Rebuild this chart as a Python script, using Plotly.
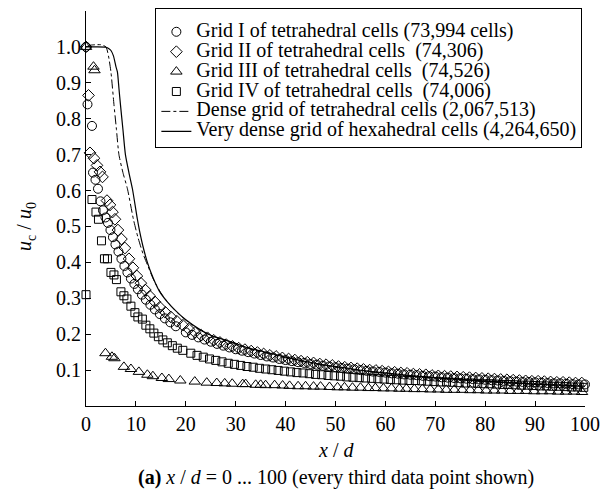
import plotly.graph_objects as go

# ---- data ----
grid1_x = [0, 0.3, 1.2, 1.4, 1.9, 2.4, 2.9, 3.4, 3.9, 4.4, 4.9, 5.4, 5.9, 6.5, 7.1, 7.7, 8.3, 9.0, 9.7, 10.4,
           11.2, 12.0, 12.9, 13.8, 14.8, 15.8, 16.9, 18.0,
           20.00, 21.25, 22.50, 23.75, 25.00, 26.25, 27.50, 28.75, 30.00, 31.25, 32.50, 33.75, 35.00, 36.25,
           37.50, 38.75, 40.00, 41.25, 42.50, 43.75, 45.00, 46.25, 47.50, 48.75, 50.00, 51.25, 52.50, 53.75,
           55.00, 56.25, 57.50, 58.75, 60.00, 61.25, 62.50, 63.75, 65.00, 66.25, 67.50, 68.75, 70.00, 71.25,
           72.50, 73.75, 75.00, 76.25, 77.50, 78.75, 80.00, 81.25, 82.50, 83.75, 85.00, 86.25, 87.50, 88.75,
           90.00, 91.25, 92.50, 93.75, 95.00, 96.25, 97.50, 98.75, 100.00]
grid1_y = [1.0, 0.84, 0.78, 0.65, 0.63, 0.605, 0.57, 0.545, 0.525, 0.51, 0.49, 0.47, 0.45, 0.43, 0.41, 0.39,
           0.372, 0.355, 0.34, 0.325, 0.31, 0.296, 0.282, 0.269, 0.256, 0.244, 0.233, 0.222,
           0.205, 0.198, 0.191, 0.185, 0.179, 0.173, 0.168, 0.163, 0.158, 0.154, 0.150, 0.146, 0.142, 0.138,
           0.135, 0.131, 0.128, 0.125, 0.122, 0.120, 0.117, 0.115, 0.112, 0.110, 0.108, 0.106, 0.104, 0.102,
           0.100, 0.098, 0.096, 0.095, 0.093, 0.091, 0.090, 0.088, 0.087, 0.086, 0.084, 0.083, 0.082, 0.080,
           0.079, 0.078, 0.077, 0.076, 0.075, 0.074, 0.073, 0.072, 0.071, 0.070, 0.069, 0.068, 0.067, 0.067,
           0.066, 0.065, 0.064, 0.063, 0.063, 0.062, 0.061, 0.060, 0.060]

grid2_x = [0, 0.5, 0.8, 1.6, 2.2, 2.8, 3.3, 4.2, 4.8, 5.3, 5.8, 6.4, 7.1, 7.8, 8.6, 9.4, 10.2, 11.0, 11.9,
           12.8, 13.8, 14.8, 15.9, 17.0, 18.2, 19.4,
           20.60, 21.85, 23.10, 24.35, 25.60, 26.85, 28.10, 29.35, 30.60, 31.85, 33.10, 34.35, 35.60, 36.85,
           38.10, 39.35, 40.60, 41.85, 43.10, 44.35, 45.60, 46.85, 48.10, 49.35, 50.60, 51.85, 53.10, 54.35,
           55.60, 56.85, 58.10, 59.35, 60.60, 61.85, 63.10, 64.35, 65.60, 66.85, 68.10, 69.35, 70.60, 71.85,
           73.10, 74.35, 75.60, 76.85, 78.10, 79.35, 80.60, 81.85, 83.10, 84.35, 85.60, 86.85, 88.10, 89.35,
           90.60, 91.85, 93.10, 94.35, 95.60, 96.85, 98.10, 99.35]
grid2_y = [1.0, 0.865, 0.705, 0.69, 0.67, 0.652, 0.638, 0.572, 0.56, 0.54, 0.52, 0.49, 0.465, 0.44, 0.41,
           0.385, 0.362, 0.342, 0.323, 0.306, 0.29, 0.275, 0.261, 0.248, 0.236, 0.225,
           0.214, 0.205, 0.197, 0.190, 0.183, 0.177, 0.171, 0.166, 0.161, 0.157, 0.153, 0.149, 0.145, 0.141,
           0.138, 0.134, 0.131, 0.128, 0.125, 0.122, 0.120, 0.117, 0.115, 0.113, 0.110, 0.108, 0.106, 0.104,
           0.102, 0.100, 0.099, 0.097, 0.095, 0.094, 0.092, 0.091, 0.089, 0.088, 0.087, 0.085, 0.084, 0.083,
           0.082, 0.081, 0.080, 0.079, 0.078, 0.077, 0.076, 0.075, 0.074, 0.073, 0.072, 0.071, 0.070, 0.069,
           0.069, 0.068, 0.067, 0.066, 0.066, 0.065, 0.064, 0.064]

grid3_x = [0, 1.5, 1.7, 3.9, 5.2, 5.7, 7.6, 9.0, 10.6, 12.3, 13.4, 15.2, 16.6, 18.9, 21.8, 24.2, 26.2, 27.8,
           29.3, 31.4, 32.0, 34.0, 35.0, 36.0, 37.8, 39.4, 40.8, 42.5, 44.0, 45.6, 47.0, 48.8, 50.4, 51.8,
           53.4, 55.0, 56.6, 58.0, 59.6, 61.2, 62.8, 64.2, 65.8, 67.4, 69.0, 70.6, 72.2, 73.8, 75.4, 77.0,
           78.6, 80.2, 81.8, 83.4, 85.0, 86.6, 88.2, 89.8, 91.4, 93.0, 94.6, 96.2, 97.8, 99.4]
grid3_y = [1.0, 0.945, 0.935, 0.147, 0.137, 0.133, 0.109, 0.103, 0.095, 0.087, 0.083, 0.078, 0.075, 0.071,
           0.068, 0.065, 0.064, 0.063, 0.062, 0.061, 0.061, 0.059, 0.059, 0.058, 0.058, 0.057, 0.056, 0.055,
           0.055, 0.054, 0.054, 0.053, 0.052, 0.052, 0.051, 0.051, 0.050, 0.050, 0.049, 0.049, 0.048, 0.048,
           0.047, 0.047, 0.046, 0.046, 0.045, 0.045, 0.045, 0.044, 0.044, 0.043, 0.043, 0.043, 0.042, 0.042,
           0.042, 0.041, 0.041, 0.041, 0.040, 0.040, 0.040, 0.039]

grid4_x = [0, 1.2, 2.0, 2.5, 3.1, 3.7, 4.3, 5.0, 5.6, 6.1, 7.0, 7.6, 8.2, 9.0, 9.8, 10.4, 11.3, 12.0, 12.8,
           13.6, 14.5, 15.4, 16.3, 17.3, 18.3, 19.4,
           21.00, 22.25, 23.50, 24.75, 26.00, 27.25, 28.50, 29.75, 31.00, 32.25, 33.50, 34.75, 36.00, 37.25,
           38.50, 39.75, 41.00, 42.25, 43.50, 44.75, 46.00, 47.25, 48.50, 49.75, 51.00, 52.25, 53.50, 54.75,
           56.00, 57.25, 58.50, 59.75, 61.00, 62.25, 63.50, 64.75, 66.00, 67.25, 68.50, 69.75, 71.00, 72.25,
           73.50, 74.75, 76.00, 77.25, 78.50, 79.75, 81.00, 82.25, 83.50, 84.75, 86.00, 87.25, 88.50, 89.75,
           91.00, 92.25, 93.50, 94.75, 96.00, 97.25, 98.50, 99.75]
grid4_y = [0.31, 0.575, 0.54, 0.52, 0.46, 0.41, 0.41, 0.372, 0.365, 0.352, 0.318, 0.307, 0.298, 0.278, 0.26,
           0.248, 0.242, 0.225, 0.215, 0.203, 0.193, 0.184, 0.176, 0.168, 0.161, 0.155,
           0.147, 0.141, 0.136, 0.131, 0.127, 0.123, 0.119, 0.116, 0.113, 0.110, 0.108, 0.105, 0.103, 0.101,
           0.099, 0.097, 0.095, 0.093, 0.092, 0.090, 0.088, 0.087, 0.085, 0.084, 0.083, 0.081, 0.080, 0.079,
           0.078, 0.077, 0.076, 0.075, 0.074, 0.073, 0.072, 0.071, 0.071, 0.070, 0.069, 0.068, 0.067, 0.067,
           0.066, 0.065, 0.064, 0.064, 0.063, 0.062, 0.062, 0.061, 0.060, 0.060, 0.059, 0.058, 0.058, 0.057,
           0.056, 0.056, 0.055, 0.055, 0.054, 0.053, 0.053, 0.052]

dense_x = [0, 1, 2, 3, 4, 4.5, 5.0, 5.6, 6.1, 6.6, 7.4, 8.3, 9.5, 10.4, 11.4, 12.4, 13.6, 15, 16.6, 18.3,
           20.3, 22.8, 25.4, 29.5, 33, 36, 40, 44, 48, 52, 56, 60, 65, 70, 75, 80, 85, 90, 95, 100]
dense_y = [1.0, 1.005, 1.006, 1.006, 1.0, 0.975, 0.93, 0.84, 0.77, 0.70, 0.65, 0.605, 0.52, 0.47, 0.425,
           0.39, 0.35, 0.315, 0.285, 0.26, 0.236, 0.212, 0.194, 0.175, 0.158, 0.148, 0.134, 0.122, 0.112,
           0.104, 0.097, 0.091, 0.084, 0.078, 0.073, 0.068, 0.064, 0.060, 0.057, 0.054]

hexa_x = [0, 2, 4, 4.6, 5.0, 5.5, 6.0, 6.3, 6.6, 6.9, 7.4, 7.9, 8.6, 9.3, 10.3, 10.7, 11.5, 12.3, 13.5, 14.7,
          16.3, 18.0, 20, 22.6, 25, 29.2, 33, 36, 40, 44, 48, 52, 56, 60, 65, 70, 75, 80, 85, 90, 95, 100]
hexa_y = [1.0, 1.0, 0.999, 0.995, 0.99, 0.975, 0.945, 0.93, 0.885, 0.84, 0.77, 0.70, 0.65, 0.605, 0.52,
          0.49, 0.44, 0.40, 0.355, 0.32, 0.29, 0.265, 0.24, 0.215, 0.197, 0.178, 0.16, 0.15, 0.136, 0.124,
          0.114, 0.106, 0.098, 0.092, 0.085, 0.079, 0.074, 0.069, 0.065, 0.061, 0.058, 0.055]

names = ["Grid I of tetrahedral cells (73,994 cells)",
         "Grid II of tetrahedral cells  (74,306)",
         "Grid III of tetrahedral cells  (74,526)",
         "Grid IV of tetrahedral cells  (74,006)",
         "Dense grid of tetrahedral cells (2,067,513)",
         "Very dense grid of hexahedral cells (4,264,650)"]

x_ticks = [0, 10, 20, 30, 40, 50, 60, 70, 80, 90, 100]
y_ticks = [0.1, 0.2, 0.3, 0.4, 0.5, 0.6, 0.7, 0.8, 0.9, 1.0]
y_ticktext = ["0.1", "0.2", "0.3", "0.4", "0.5", "0.6", "0.7", "0.8", "0.9", "1.0"]

FONT = "Times New Roman"
LEG_TXT = 20


def lname(s):
    return '<span style="font-size:%dpx">%s</span>' % (LEG_TXT, s.replace("  ", "\u00a0 "))


def mk(symbol, size):
    return dict(symbol=symbol, size=size, color="black", line=dict(width=1, color="black"))


fig = go.Figure()
fig.add_trace(go.Scatter(x=grid1_x, y=grid1_y, mode="markers", name=lname(names[0]),
                         marker=mk("circle-open", 9), cliponaxis=False))
fig.add_trace(go.Scatter(x=grid2_x, y=grid2_y, mode="markers", name=lname(names[1]),
                         marker=mk("diamond-open", 9), cliponaxis=False))
fig.add_trace(go.Scatter(x=grid3_x, y=grid3_y, mode="markers", name=lname(names[2]),
                         marker=mk("triangle-up-open", 10), cliponaxis=False))
fig.add_trace(go.Scatter(x=grid4_x, y=grid4_y, mode="markers", name=lname(names[3]),
                         marker=mk("square-open", 8), cliponaxis=False))
fig.add_trace(go.Scatter(x=dense_x, y=dense_y, mode="lines", name=lname(names[4]),
                         line=dict(color="black", width=1, dash="dashdot", shape="spline", smoothing=0.6),
                         cliponaxis=False))
fig.add_trace(go.Scatter(x=hexa_x, y=hexa_y, mode="lines", name=lname(names[5]),
                         line=dict(color="black", width=1.2, shape="spline", smoothing=0.6),
                         cliponaxis=False))

fig.update_layout(
    width=608, height=492,
    margin=dict(l=86, r=18, t=8, b=86),
    paper_bgcolor="white", plot_bgcolor="white",
    font=dict(family=FONT, size=20, color="black"),
    showlegend=True,
    legend=dict(x=0.139, y=1.0075, xanchor="left", yanchor="top",
                bordercolor="black", borderwidth=1, bgcolor="white",
                font=dict(family=FONT, size=13, color="black"),
                title=dict(text="\u00a0", font=dict(family=FONT, size=6)),
                tracegroupgap=0, itemwidth=30),
    xaxis=dict(range=[0, 100], tickvals=x_ticks, ticks="inside", ticklen=5, tickcolor="black",
               showline=True, linecolor="black", linewidth=1, showgrid=False, zeroline=False,
               tickfont=dict(family=FONT, size=20)),
    yaxis=dict(range=[0, 1.1], tickvals=y_ticks, ticktext=y_ticktext, ticks="inside", ticklen=5,
               tickcolor="black", showline=True, linecolor="black", linewidth=1, showgrid=False,
               zeroline=False, tickfont=dict(family=FONT, size=20)),
    annotations=[
        dict(text="<i>x</i> / <i>d</i>", xref="paper", yref="paper", x=0.5, y=-0.111,
             xanchor="center", yanchor="middle", showarrow=False, font=dict(family=FONT, size=20)),
        dict(text="<i>u</i><sub>c</sub> / <i>u</i><sub>0</sub>", xref="paper", yref="paper",
             x=-0.121, y=0.455, xanchor="center", yanchor="middle", textangle=-90, showarrow=False,
             font=dict(family=FONT, size=20)),
        dict(text="<b>(a)</b> <i>x</i> / <i>d</i> = 0 ... 100 (every third data point shown)",
             xref="paper", yref="paper", x=0.5, y=-0.181, xanchor="center", yanchor="middle",
             showarrow=False, font=dict(family=FONT, size=20)),
    ],
)

fig.write_html("out.html")
